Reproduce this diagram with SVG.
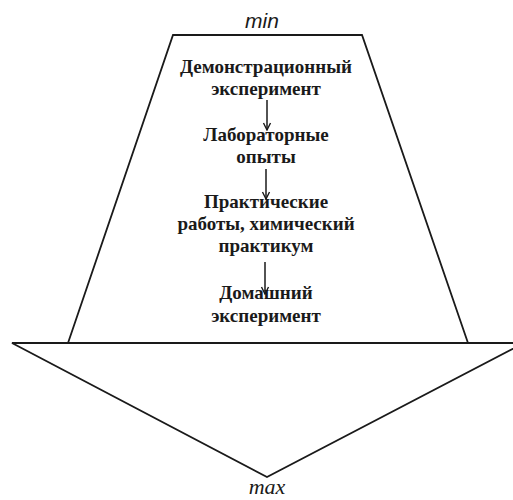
<svg xmlns="http://www.w3.org/2000/svg" width="513" height="500" viewBox="0 0 513 500">
<style>
.shape{fill:none;stroke:#1a1a1a;stroke-width:1.8;stroke-linejoin:miter}
.t{font-family:"Liberation Serif","Times New Roman",serif;font-weight:bold;font-size:19px;fill:#1a1a1a;text-anchor:middle}
.lbl{font-style:italic;fill:#1a1a1a;text-anchor:middle}
.con{stroke:#1a1a1a;stroke-width:1.5;fill:none}
</style>
<defs>
<marker id="ah" markerWidth="10" markerHeight="10" refX="9" refY="5" orient="auto" markerUnits="userSpaceOnUse" viewBox="0 0 10 10">
<path d="M2,1.5 L9,5 L2,8.5" fill="none" stroke="#1a1a1a" stroke-width="1.4"/>
</marker>
</defs>
<rect width="513" height="500" fill="#fff"/>
<g id="shapes">
<polygon class="shape" points="173,35 362,35 468,343 68,343"/>
<polygon class="shape" points="12,343 524,343 267,477"/>
</g>
<text class="lbl" x="262" y="28" font-family="Liberation Sans, Arial, sans-serif" font-size="21">min</text>
<text class="lbl" x="267" y="494" font-family="Liberation Serif, Times New Roman, serif" font-size="22">max</text>
<g id="n1">
<text class="t" x="266" y="73">Демонстрационный</text>
<text class="t" x="266" y="95">эксперимент</text>
</g>
<g id="n2">
<text class="t" x="266" y="141">Лабораторные</text>
<text class="t" x="266" y="163">опыты</text>
</g>
<g id="n3">
<text class="t" x="266" y="208">Практические</text>
<text class="t" x="266" y="230">работы, химический</text>
<text class="t" x="266" y="252">практикум</text>
</g>
<g id="n4">
<text class="t" x="266" y="299">Домашний</text>
<text class="t" x="266" y="322">эксперимент</text>
</g>
<g id="connectors">
<line class="con" x1="267" y1="100" x2="267" y2="130" marker-end="url(#ah)"/>
<line class="con" x1="266" y1="169" x2="266" y2="199" marker-end="url(#ah)"/>
<line class="con" x1="265" y1="262" x2="265" y2="294" marker-end="url(#ah)"/>
</g>
</svg>
